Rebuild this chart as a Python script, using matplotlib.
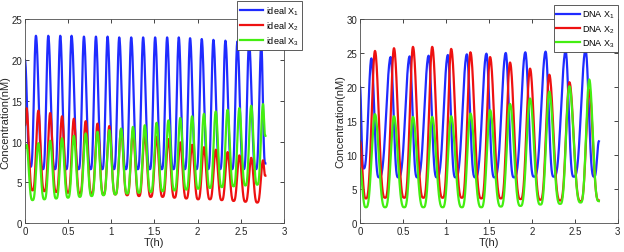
import numpy as np
import matplotlib.pyplot as plt

plt.rcParams['font.family'] = ['Liberation Sans', 'DejaVu Sans']
plt.rcParams['mathtext.fontset'] = 'custom'
plt.rcParams['mathtext.rm'] = 'Liberation Sans'

# ---- left panel (ideal), turning points ----
ideal_x1_start, ideal_x1_end = 20.0, 7.3
ideal_x1_trough_t = [0.065, 0.208, 0.347, 0.478, 0.621, 0.760, 0.895, 1.030, 1.169, 1.307,
                     1.446, 1.585, 1.720, 1.851, 1.986, 2.121, 2.260, 2.399, 2.534, 2.676]
ideal_x1_trough = [6.9, 6.6, 6.6, 6.6, 6.6, 6.6, 6.6, 6.6, 6.6, 6.6,
                   6.6, 6.6, 6.6, 6.6, 6.6, 6.6, 6.6, 6.6, 6.6, 6.6]
ideal_x1_peak_t = [0.127, 0.270, 0.409, 0.540, 0.683, 0.822, 0.957, 1.092, 1.231, 1.369,
                   1.508, 1.647, 1.782, 1.913, 2.048, 2.183, 2.322, 2.461, 2.596, 2.738]
ideal_x1_peak = [23.0, 23.0, 23.0, 23.0, 22.9, 22.9, 22.9, 22.8, 22.8, 22.8,
                 22.8, 22.8, 22.8, 22.7, 22.6, 22.5, 22.4, 22.3, 22.1, 22.0]

# X2 and X3 peak / dip together
ideal_x23_peak_t = [0.018, 0.155, 0.292, 0.429, 0.566, 0.703, 0.840, 0.977, 1.114, 1.251, 1.388,
                    1.525, 1.662, 1.799, 1.936, 2.073, 2.210, 2.347, 2.484, 2.621, 2.758]
ideal_x23_trough_t = [0.088, 0.225, 0.362, 0.499, 0.636, 0.773, 0.910, 1.047, 1.184, 1.321,
                      1.458, 1.595, 1.732, 1.869, 2.006, 2.143, 2.280, 2.417, 2.554, 2.691]
ideal_x2_start, ideal_x2_end = 12.0, 5.8
ideal_x2_peak = [14.1, 13.8, 13.5, 13.1, 12.8, 12.5, 12.2, 11.9, 11.5, 11.2, 10.9,
                 10.6, 10.3, 9.9, 9.6, 9.3, 9.0, 8.7, 8.3, 8.0, 7.7]
ideal_x2_trough = [4.0, 3.9, 3.8, 3.7, 3.6, 3.6, 3.5, 3.5, 3.4, 3.3,
                   3.2, 3.2, 3.1, 3.0, 2.9, 2.9, 2.8, 2.7, 2.6, 2.5]
ideal_x3_start, ideal_x3_end = 9.2, 10.7
ideal_x3_peak = [9.6, 9.8, 10.1, 10.4, 10.7, 11.0, 11.2, 11.4, 11.6, 11.8, 12.0,
                 12.3, 12.6, 12.9, 13.1, 13.4, 13.7, 13.9, 14.1, 14.4, 14.6]
ideal_x3_trough = [2.8, 2.9, 3.0, 3.1, 3.2, 3.3, 3.4, 3.5, 3.6, 3.7,
                   3.8, 3.9, 4.0, 4.1, 4.2, 4.3, 4.4, 4.5, 4.6, 4.7]
ideal_t_end = 2.785

# ---- right panel (DNA) ----
dna_x1_start, dna_x1_end = 20.0, 12.0
dna_x1_trough_t = [0.040, 0.221, 0.445, 0.666, 0.894, 1.111, 1.340, 1.564, 1.792, 2.025, 2.255, 2.488, 2.725]
dna_x1_trough = [8.0, 6.7, 6.7, 6.7, 6.7, 6.7, 6.7, 6.7, 6.7, 6.8, 6.8, 6.8, 6.8]
dna_x1_peak_t = [0.132, 0.356, 0.577, 0.798, 1.022, 1.243, 1.471, 1.696, 1.924, 2.160, 2.393, 2.625]
dna_x1_peak = [24.2, 24.4, 24.5, 24.6, 24.7, 24.8, 24.9, 25.0, 25.1, 25.2, 25.3, 25.5]

dna_x23_trough_t = [0.068, 0.292, 0.515, 0.738, 0.962, 1.186, 1.412, 1.640, 1.868, 2.100, 2.330, 2.568]
dna_x23_peak_t = [0.174, 0.395, 0.616, 0.840, 1.061, 1.285, 1.514, 1.746, 1.979, 2.203, 2.437, 2.668]
dna_x2_start, dna_x2_end = 12.0, 3.3
dna_x2_trough = [3.6, 3.7, 3.7, 3.7, 3.7, 3.7, 3.6, 3.6, 3.5, 3.4, 3.3, 3.2]
dna_x2_peak = [25.3, 25.7, 25.9, 25.9, 25.6, 25.1, 24.4, 23.6, 22.7, 21.8, 20.7, 19.6]
dna_x3_start, dna_x3_end = 8.0, 3.2
dna_x3_trough = [2.3, 2.3, 2.3, 2.3, 2.3, 2.3, 2.3, 2.4, 2.5, 2.7, 2.8, 3.0]
dna_x3_peak = [16.0, 15.7, 15.6, 15.6, 15.7, 16.1, 16.6, 17.5, 18.3, 19.3, 20.1, 21.1]
dna_t_end = 2.78


def turning_points(start, end, t_end, first_t, first_v, second_t, second_v):
    # start -> first[0] -> second[0] -> first[1] -> ... -> end
    ts, vs = [0.0], [start]
    for i in range(max(len(first_t), len(second_t))):
        if i < len(first_t):
            ts.append(first_t[i]); vs.append(first_v[i])
        if i < len(second_t):
            ts.append(second_t[i]); vs.append(second_v[i])
    ts.append(t_end); vs.append(end)
    return ts, vs


def smooth(ts, vs, p=1.6, n=30):
    # join turning points with a half-cosine, sharper at the peaks
    out_t, out_v = [], []
    for i in range(len(ts) - 1):
        s = np.linspace(0, 1, n, endpoint=False)
        u = (1 - np.cos(np.pi * s)) / 2
        v0, v1 = vs[i], vs[i + 1]
        if v1 >= v0:
            v = v0 + (v1 - v0) * u ** p
        else:
            v = v1 + (v0 - v1) * (1 - u) ** p
        out_t.append(ts[i] + s * (ts[i + 1] - ts[i]))
        out_v.append(v)
    out_t.append([ts[-1]]); out_v.append([vs[-1]])
    return np.concatenate(out_t), np.concatenate(out_v)


blue, red, green = '#1f2bff', '#ee1111', '#44ee11'

fig = plt.figure(figsize=(6.24, 2.53), dpi=100)
ax1 = fig.add_axes([0.040, 0.115, 0.415, 0.804])
ax2 = fig.add_axes([0.577, 0.115, 0.413, 0.806])

# left
t, v = smooth(*turning_points(ideal_x1_start, ideal_x1_end, ideal_t_end,
                              ideal_x1_trough_t, ideal_x1_trough, ideal_x1_peak_t, ideal_x1_peak))
ax1.plot(t, v, color=blue, lw=1.6, label='ideal X$_1$')
t, v = smooth(*turning_points(ideal_x2_start, ideal_x2_end, ideal_t_end,
                              ideal_x23_peak_t, ideal_x2_peak, ideal_x23_trough_t, ideal_x2_trough))
ax1.plot(t, v, color=red, lw=1.6, label='ideal X$_2$')
t, v = smooth(*turning_points(ideal_x3_start, ideal_x3_end, ideal_t_end,
                              ideal_x23_peak_t, ideal_x3_peak, ideal_x23_trough_t, ideal_x3_trough))
ax1.plot(t, v, color=green, lw=1.6, label='ideal X$_3$')
ax1.set_ylim(0, 25)

# right
t, v = smooth(*turning_points(dna_x1_start, dna_x1_end, dna_t_end,
                              dna_x1_trough_t, dna_x1_trough, dna_x1_peak_t, dna_x1_peak))
ax2.plot(t, v, color=blue, lw=1.6, label='DNA X$_1$')
t, v = smooth(*turning_points(dna_x2_start, dna_x2_end, dna_t_end,
                              dna_x23_trough_t, dna_x2_trough, dna_x23_peak_t, dna_x2_peak))
ax2.plot(t, v, color=red, lw=1.6, label='DNA X$_2$')
t, v = smooth(*turning_points(dna_x3_start, dna_x3_end, dna_t_end,
                              dna_x23_trough_t, dna_x3_trough, dna_x23_peak_t, dna_x3_peak))
ax2.plot(t, v, color=green, lw=1.6, label='DNA X$_3$')
ax2.set_ylim(0, 30)

for ax in (ax1, ax2):
    ax.set_xlim(0, 3)
    ax.set_xticks([0, 0.5, 1, 1.5, 2, 2.5, 3])
    ax.set_xticklabels(['0', '0.5', '1', '1.5', '2', '2.5', '3'])
    ax.tick_params(direction='in', length=3, width=0.6, top=True, right=True,
                   labelsize=7, pad=2, colors='0.15')
    for sp in ax.spines.values():
        sp.set_linewidth(0.6)
        sp.set_color('0.3')
    ax.set_xlabel('T(h)', fontsize=8, labelpad=1, color='0.15')
    ax.set_ylabel('Concentration(nM)', fontsize=8, labelpad=1, color='0.15')

leg1 = ax1.legend(loc='upper right', bbox_to_anchor=(302 / 624, 1 - 2 / 253),
                  bbox_transform=fig.transFigure, fontsize=6.5, fancybox=False,
                  edgecolor='0.25', framealpha=1, borderaxespad=0, borderpad=0.35,
                  labelspacing=0.3, handlelength=2.6, handletextpad=0.3)
leg2 = ax2.legend(loc='upper right', bbox_to_anchor=(618 / 624, 1 - 6 / 253),
                  bbox_transform=fig.transFigure, fontsize=6.5, fancybox=False,
                  edgecolor='0.25', framealpha=1, borderaxespad=0, borderpad=0.3,
                  labelspacing=0.2, handlelength=2.6, handletextpad=0.3)
for leg in (leg1, leg2):
    leg.get_frame().set_linewidth(0.6)

fig.savefig('out.png', dpi=100)
